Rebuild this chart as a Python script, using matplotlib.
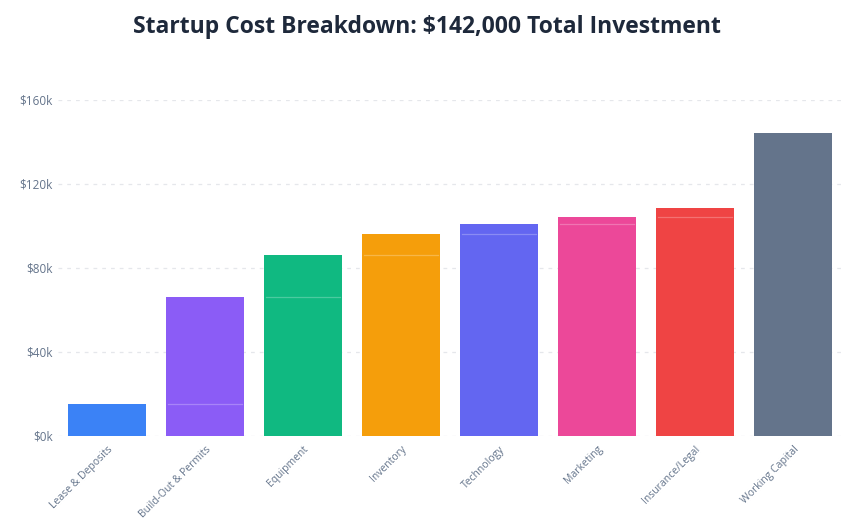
import numpy as np
import matplotlib.pyplot as plt

plt.rcParams['font.family'] = ['Open Sans', 'DejaVu Sans']

# Data (thousands of dollars)
categories = ["Lease & Deposits", "Build-Out & Permits", "Equipment", "Inventory",
              "Technology", "Marketing", "Insurance/Legal", "Working Capital"]
increments = [15, 51, 20, 10, 4.8, 3.5, 4, 36]
colors = ["#3b82f6", "#8b5cf6", "#10b981", "#f59e0b",
          "#6366f1", "#ec4899", "#ef4444", "#64748b"]
yticks = [0, 40, 80, 120, 160]

tops = np.cumsum(increments)
bases = tops - np.array(increments)

fig = plt.figure(figsize=(8.54, 5.26), dpi=100)
ax = fig.add_axes([0.068, 0.172, 0.918, 0.638])

x = np.arange(len(categories))
w = 0.8
last = len(categories) - 1
for i in x:
    if i == last:
        # final bar shown as full column from zero
        ax.bar(i, tops[i], width=w, color=colors[i], zorder=3)
        continue
    ax.bar(i, bases[i], width=w, color=colors[i], zorder=3)
    ax.bar(i, increments[i], bottom=bases[i], width=w, color=colors[i], zorder=3)
    if bases[i] > 0:
        ax.plot([i - w / 2 + 0.02, i + w / 2 - 0.02], [bases[i], bases[i]],
                color="white", alpha=0.25, lw=0.9, zorder=4)

ax.set_xlim(-0.5, len(categories) - 0.5)
ax.set_ylim(0, 160)
ax.set_yticks(yticks)
ax.set_yticklabels([f"${v}k" for v in yticks], color="#64748b", fontsize=8.5)
ax.yaxis.grid(True, linestyle=(0, (3, 4)), color="#e5e7eb", lw=0.9, zorder=0)
ax.set_axisbelow(True)

ax.set_xticks(x)
ax.set_xticklabels(categories, rotation=45, ha="right", rotation_mode="anchor",
                   color="#64748b", fontsize=7.5)
ax.tick_params(axis="both", length=0)
ax.tick_params(axis="y", pad=4)
ax.tick_params(axis="x", pad=6)

for s in ax.spines.values():
    s.set_visible(False)

fig.suptitle("Startup Cost Breakdown: $142,000 Total Investment", x=0.5, y=0.948,
             va="center", fontsize=16.5, fontweight="bold", color="#1e293b")

fig.savefig("out.png", dpi=100)
